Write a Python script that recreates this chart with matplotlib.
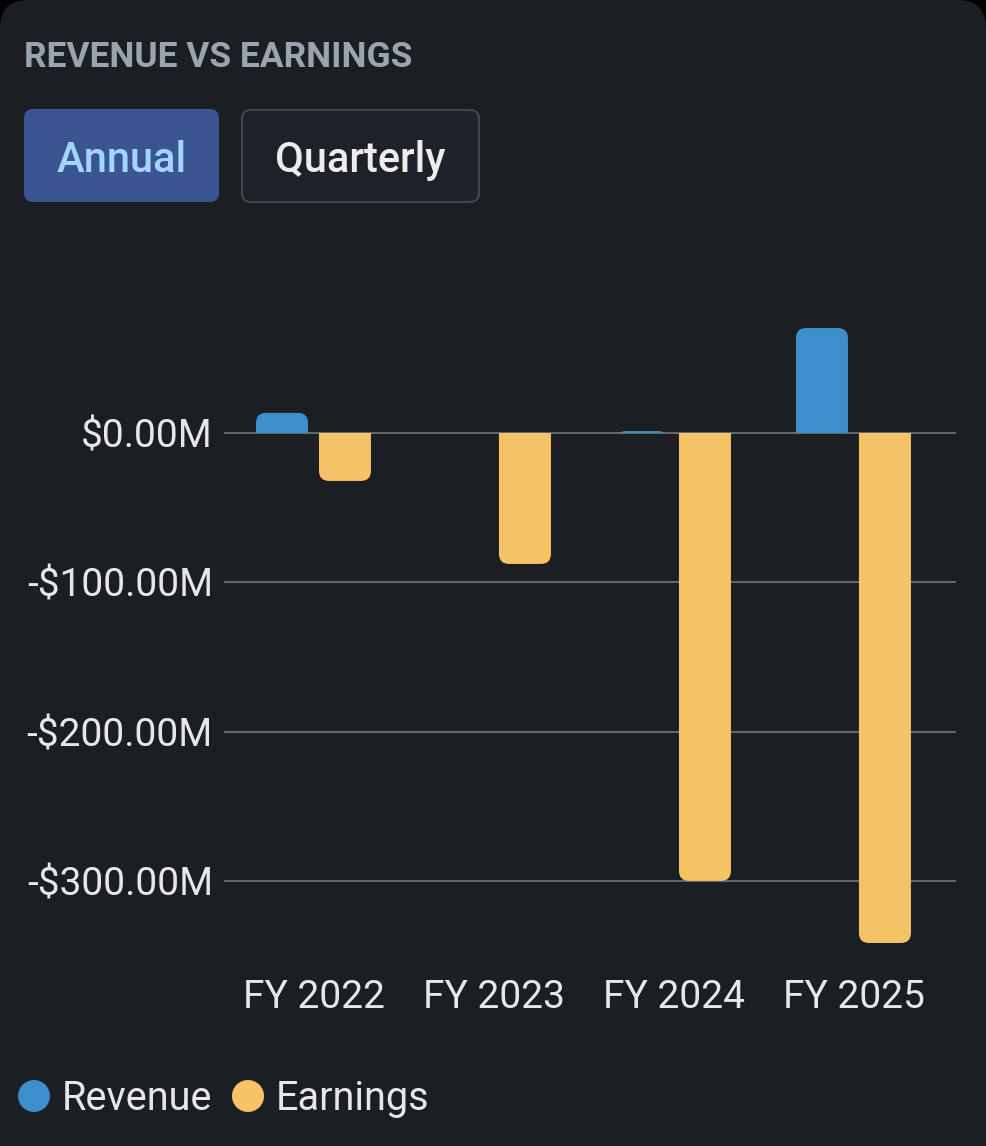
import matplotlib
matplotlib.use("Agg")
import matplotlib.pyplot as plt
from matplotlib.patches import FancyBboxPatch, Rectangle, Circle
from matplotlib.ticker import FuncFormatter

# data (millions USD)
years    = ["FY 2022", "FY 2023", "FY 2024", "FY 2025"]
revenue  = [13.5, 0.0, 1.3, 70.3]
earnings = [-32.1, -87.7, -300.0, -341.6]
series   = ["Revenue", "Earnings"]
colors   = ["#3d8fcb", "#f6c266"]
yticks   = [0, -100, -200, -300]
buttons  = ["Annual", "Quarterly"]
title    = "REVENUE VS EARNINGS"

plt.rcParams['font.family'] = ['Roboto', 'DejaVu Sans']

W, H = 986, 1146
fig = plt.figure(figsize=(W / 100, H / 100), dpi=100)
fig.patch.set_facecolor("#000000")

# background card / header drawn in pixel coords
bg = fig.add_axes([0, 0, 1, 1])
bg.set_xlim(0, W)
bg.set_ylim(H, 0)
bg.axis("off")
card = "#1b1e22"
bg.add_patch(FancyBboxPatch((0, 0), W, H + 60, boxstyle="round,pad=0,rounding_size=28",
                            fc=card, ec="none"))
bg.text(24, 67, title, fontsize=25.5, fontweight="bold", color="#9aa4af", ha="left", va="baseline")

bg.add_patch(FancyBboxPatch((24, 109), 195, 93, boxstyle="round,pad=0,rounding_size=9",
                            fc="#3a5591", ec="none"))
bg.text(122, 172, buttons[0], fontsize=30, fontweight="medium", color="#a3d5ff",
        ha="center", va="baseline")
bg.add_patch(FancyBboxPatch((242, 110), 237, 92, boxstyle="round,pad=0,rounding_size=9",
                            fc="#1e2228", ec="#41464d", lw=1.6))
bg.text(360.5, 172, buttons[1], fontsize=30, fontweight="medium", color="#ececec",
        ha="center", va="baseline")

# legend
lx = [34, 248]
for i, name in enumerate(series):
    bg.add_patch(Circle((lx[i], 1096), 16, fc=colors[i], ec="none"))
    bg.text(lx[i] + 28, 1110, name, fontsize=28.5, color="#e6e7e9", ha="left", va="baseline")

# chart
ax = fig.add_axes([224 / W, 1 - 960 / H, 732 / W, 660 / H])
ax.set_facecolor("none")
px_x = 180.0      # pixels per category
px_y = 1.493      # pixels per $1M
ax.set_xlim(-0.5, 3.567)
ax.set_ylim(-(960 - 433) / px_y, (433 - 300) / px_y)

bw = 52 / px_x
offs = [-32 / px_x, 31 / px_x]
r_x = 10 / px_x
aspect = px_x / px_y
r_y = r_x * aspect

x0, x1 = ax.get_xlim()
y0, y1 = ax.get_ylim()
clip_up = Rectangle((x0, 0), x1 - x0, y1, transform=ax.transData)
clip_dn = Rectangle((x0, y0), x1 - x0, -y0, transform=ax.transData)

for s, vals in enumerate([revenue, earnings]):
    for i, v in enumerate(vals):
        if v == 0:
            continue
        c = i + offs[s]
        ext = max(r_y, 2 * r_y - abs(v))
        if v > 0:
            p = FancyBboxPatch((c - bw / 2, -ext), bw, v + ext,
                               boxstyle=f"round,pad=0,rounding_size={r_x}",
                               mutation_aspect=aspect, fc=colors[s], ec="none", zorder=3)
            ax.add_patch(p)
            p.set_clip_path(clip_up)
        else:
            p = FancyBboxPatch((c - bw / 2, v), bw, -v + ext,
                               boxstyle=f"round,pad=0,rounding_size={r_x}",
                               mutation_aspect=aspect, fc=colors[s], ec="none", zorder=3)
            ax.add_patch(p)
            p.set_clip_path(clip_dn)

ax.set_yticks(yticks)
ax.yaxis.set_major_formatter(FuncFormatter(
    lambda v, _: ("-" if v < 0 else "") + "${:.2f}M".format(abs(v))))
ax.set_xticks(range(len(years)))
ax.set_xticklabels(years)
ax.tick_params(axis="y", length=0, pad=8, labelsize=28, labelcolor="#e6e7e9")
ax.tick_params(axis="x", length=0, pad=14, labelsize=28, labelcolor="#e6e7e9")
ax.grid(axis="y", color="#62676e", lw=1.5, zorder=1)
ax.set_axisbelow(True)
for sp in ax.spines.values():
    sp.set_visible(False)

fig.savefig("out.png", dpi=100, facecolor=fig.get_facecolor())
